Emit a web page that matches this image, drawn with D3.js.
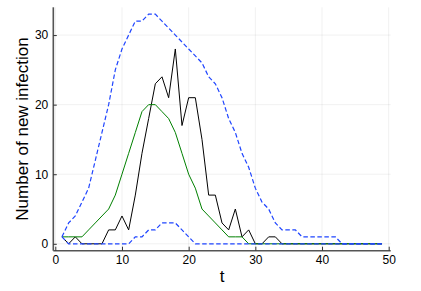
<!DOCTYPE html>
<html lang="en">
<head>
<meta charset="utf-8">
<title>New infections</title>
<script src="https://cdn.jsdelivr.net/npm/d3@7"></script>
<style>
  body { margin: 0; background: white; }
  svg { font-family: "Liberation Sans", Arial, sans-serif; }
</style>
</head>
<body>
<script>
// days 1..49
var days = d3.range(1, 50);
var xTicks = [0, 10, 20, 30, 40, 50];
var yTicks = [0, 10, 20, 30];

var observed = [1,0,1,0,0,0,0,2,2,4, 2,7,13,18,23,24,21,28,17,21,
  21,15,7,7,3,2,5,1,2,0, 0,1,1,0,0,0,0,0,0,0, 0,0,0,0,0,0,0,0,0];
var meanCurve = [1,1,1,1,2,3,4,5,7,10, 13,16,19,20,20,19,18,16,13,10,
  8,5,4,3,2,1,1,1,0,0, 0,0,0,0,0,0,0,0,0,0, 0,0,0,0,0,0,0,0,0];
var lower = [1,0,0,0,0,0,0,0,0,0, 0,1,1,2,2,3,3,3,2,1,
  0,0,0,0,0,0,0,0,0,0, 0,0,0,0,0,0,0,0,0,0, 0,0,0,0,0,0,0,0,0];
var upper = [1,3,4,6,8,12,16,20,25,28, 30,32,32,33,33,32,31,30,29,28,
  27,26,24,23,21,18,16,13,11,8, 6,5,3,2,2,2,1,1,1,1, 1,1,0,0,0,0,0,0,0];

var W = 421, H = 291;
var pLeft = 53.3, pRight = 390.7, pTop = 7.3, pBottom = 250.7;

var svg = d3.select("body").append("svg")
  .attr("width", W).attr("height", H);

var x = d3.scaleLinear().domain([-0.3, 50.3]).range([pLeft, pRight]);
var y = d3.scaleLinear().domain([-0.99, 33.99]).range([pBottom, pTop]);

// grid
svg.append("g").selectAll("line").data(xTicks).enter().append("line")
  .attr("x1", d => x(d)).attr("x2", d => x(d))
  .attr("y1", pTop).attr("y2", pBottom)
  .attr("stroke", "#000").attr("stroke-opacity", 0.1).attr("stroke-width", 0.6);
svg.append("g").selectAll("line").data(yTicks).enter().append("line")
  .attr("x1", pLeft).attr("x2", pRight)
  .attr("y1", d => y(d)).attr("y2", d => y(d))
  .attr("stroke", "#000").attr("stroke-opacity", 0.1).attr("stroke-width", 0.6);

var line = d3.line().x((d, i) => x(days[i])).y(d => y(d));

function series(data, color, dash, w) {
  svg.append("path").datum(data)
    .attr("d", line)
    .attr("fill", "none")
    .attr("stroke", color)
    .attr("stroke-width", w || 1)
    .attr("stroke-dasharray", dash || null);
}
series(observed, "#000000");
series(meanCurve, "#008000");
series(lower, "#1f45ff", "4.5,2.5", 1.2);
series(upper, "#1f45ff", "4.5,2.5", 1.2);

// axes
var xAxis = d3.axisBottom(x).tickValues(xTicks).tickSize(-4).tickPadding(5);
var gx = svg.append("g").attr("transform", "translate(0," + pBottom + ")").call(xAxis);
var yAxis = d3.axisLeft(y).tickValues(yTicks).tickSize(-3.5).tickPadding(5);
var gy = svg.append("g").attr("transform", "translate(" + pLeft + ",0)").call(yAxis);

[gx, gy].forEach(function(g) {
  g.select(".domain").attr("stroke", "#555").attr("stroke-width", 1.6);
  g.selectAll(".tick line").attr("stroke", "#333").attr("stroke-width", 1);
  g.selectAll(".tick text").attr("font-size", 12).attr("fill", "#000")
    .attr("font-family", "Liberation Sans, Arial, sans-serif");
});
gx.select(".domain").attr("d", "M" + pLeft + ",0H" + pRight);
gy.select(".domain").attr("d", "M0," + pTop + "V" + pBottom);

svg.append("text")
  .attr("x", (pLeft + pRight) / 2).attr("y", 282)
  .attr("text-anchor", "middle")
  .attr("font-size", 17)
  .text("t");

svg.append("text")
  .attr("transform", "translate(22," + ((pTop + pBottom) / 2) + ") rotate(-90)")
  .attr("text-anchor", "middle")
  .attr("dominant-baseline", "central")
  .attr("font-size", 17)
  .text("Number of new infection");
</script>
</body>
</html>
